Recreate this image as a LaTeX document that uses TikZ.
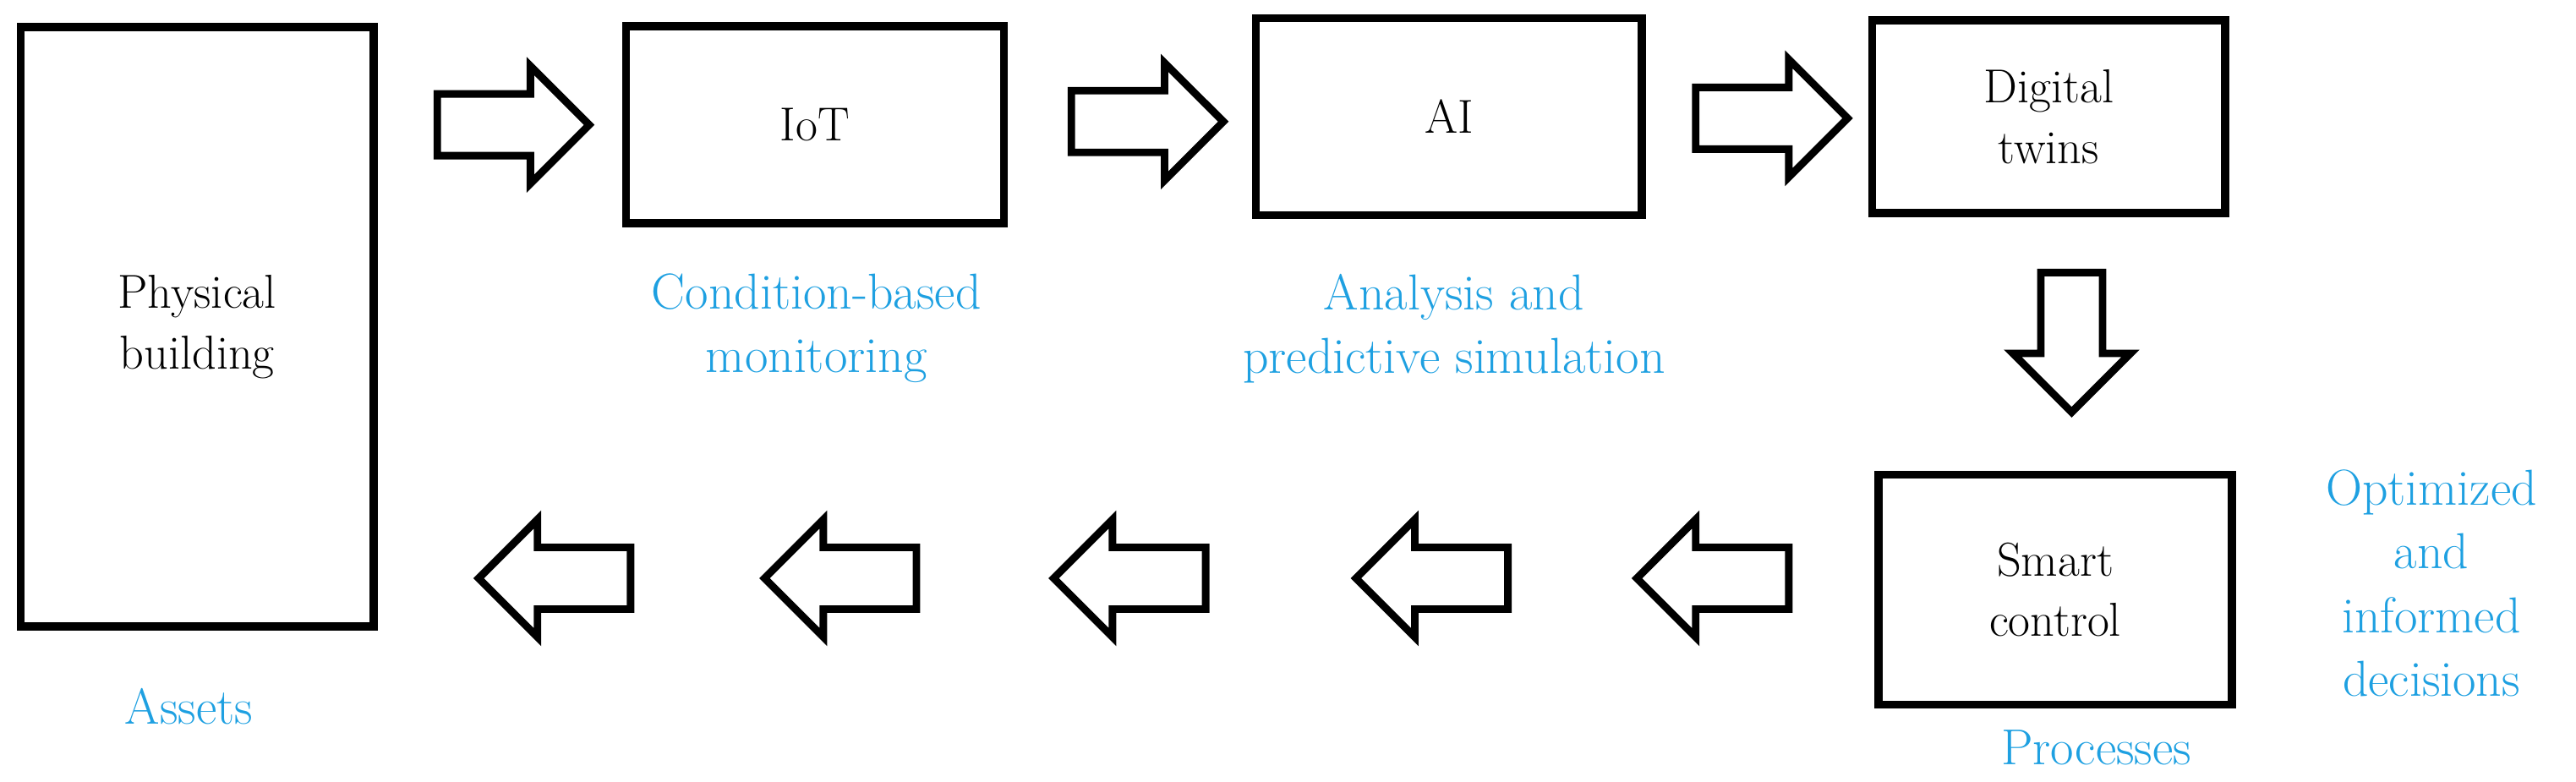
\documentclass[tikz,border=0pt]{standalone}
\usepackage{tikz}
\usetikzlibrary{shapes.arrows,positioning}
\definecolor{notecolor}{RGB}{30,160,225}
\begin{document}
\begin{tikzpicture}
[x=0.02cm,y=-0.02cm,line join=miter,
% Styles
box/.style={draw,line width=2.8pt,inner sep=0pt,font=\fontsize{16.5}{21}\selectfont,align=center},
step arrow/.style={single arrow,draw,line width=2.6pt,minimum height=1.85cm,
  inner xsep=0pt,inner ysep=0.33cm,single arrow head extend=0.34cm},
note/.style={text=notecolor,font=\fontsize{17.5}{22}\selectfont,align=center}]
\useasboundingbox (0,0) rectangle (1568,476);
% The boxes
\node[box,minimum width=4.3cm,minimum height=7.3cm] (building) at (120,199) {Physical\\building};
\node[box,minimum width=4.6cm,minimum height=2.4cm] (iot) at (496,76) {IoT};
\node[box,minimum width=4.7cm,minimum height=2.4cm] (ai) at (882,71) {AI};
\node[box,minimum width=4.3cm,minimum height=2.35cm] (twins) at (1247,71) {Digital\\twins};
\node[box,minimum width=4.3cm,minimum height=2.8cm] (control) at (1251,359) {Smart\\control};
% Arrows along the top
\node[step arrow] (a1) at (303,76) {};
\node[step arrow] (a2) at (689,74) {};
\node[step arrow] (a3) at (1069,72) {};
\node[step arrow,shape border rotate=270,minimum height=1.7cm,
  inner xsep=0.33cm,inner ysep=0pt] (down) at (1261,199) {};
% Arrows back to the building
\foreach \x/\n in {347/b1,521/b2,697/b3,881/b4,1052/b5}
  \node[step arrow,shape border rotate=180] (\n) at (\x,352) {};
% Notes
\node[note] (monitoring) at (497,200) {Condition-based\\monitoring};
\node[note] (analysis) at (885,200) {Analysis and\\predictive simulation};
\node[note] (processes) at (1276,455) {Processes};
\node[note] (decisions) at (1480,355) {Optimized\\and\\informed\\decisions};
\node[note] (assets) at (115,430) {Assets};
\end{tikzpicture}
\end{document}
